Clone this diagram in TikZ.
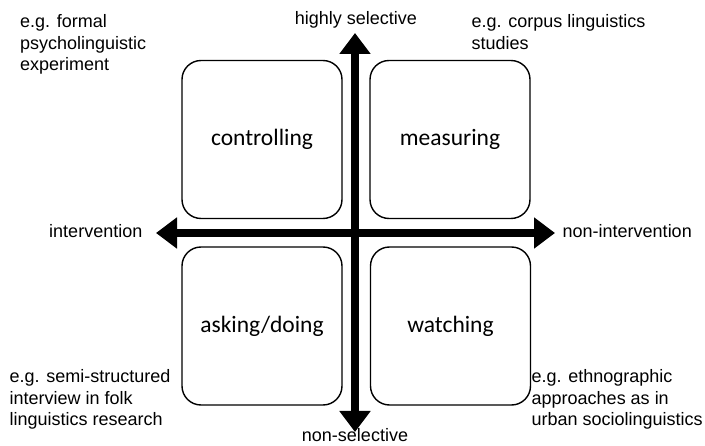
\documentclass[tikz,border=0pt]{standalone}
\usepackage{fontspec}
\setmainfont{Liberation Sans}
\newfontfamily\boxfont{Carlito}
\usetikzlibrary{arrows.meta}
\tikzset{
  qbox/.style={draw, line width=1.4pt, rounded corners=19pt, minimum width=160pt, minimum height=158pt, inner sep=0pt, font=\boxfont\fontsize{23.5}{28}\selectfont},
  axis/.style={line width=8pt, {Triangle[width=30pt,length=21pt]}-{Triangle[width=30pt,length=21pt]}},
  lab/.style={inner sep=0pt, font=\fontsize{18}{21.7}\selectfont},
  note/.style={inner sep=0pt, anchor=north west, align=left, font=\fontsize{18}{21.7}\selectfont}
}
\begin{document}
\begin{tikzpicture}[x=1pt,y=-1pt]
\useasboundingbox (0,0) rectangle (705,446);
% boxes
\node[qbox] (ctrl) at (262,139.5) {controlling};
\node[qbox] (meas) at (450,139.5) {measuring};
\node[qbox] (ask) at (262,326) {asking/doing};
\node[qbox] (watch) at (450.5,326) {watching};
% axes
\coordinate (top) at (355,33);
\coordinate (bot) at (355,432);
\coordinate (left) at (156,233);
\coordinate (right) at (555,233);
\draw[axis] (left) -- (right);
\draw[axis] (bot) -- (top);
% axis labels
\node[lab, anchor=base] (hs) at (356,25) {highly selective};
\node[lab, anchor=base] (ns) at (355,442) {non-selective};
\node[lab, anchor=base east] (iv) at (142.5,238) {intervention};
\node[lab, anchor=base west] (niv) at (562.5,238) {non-intervention};
% examples
\node[note] (ex1) at (20,14.1) {e.g. formal\\psycholinguistic\\experiment};
\node[note] (ex2) at (471.5,14.1) {e.g. corpus linguistics\\studies};
\node[note] (ex3) at (9.5,369.1) {e.g. semi-structured\\interview in folk\\linguistics research};
\node[note] (ex4) at (531.5,369.1) {e.g. ethnographic\\approaches as in\\urban sociolinguistics};
\end{tikzpicture}
\end{document}
